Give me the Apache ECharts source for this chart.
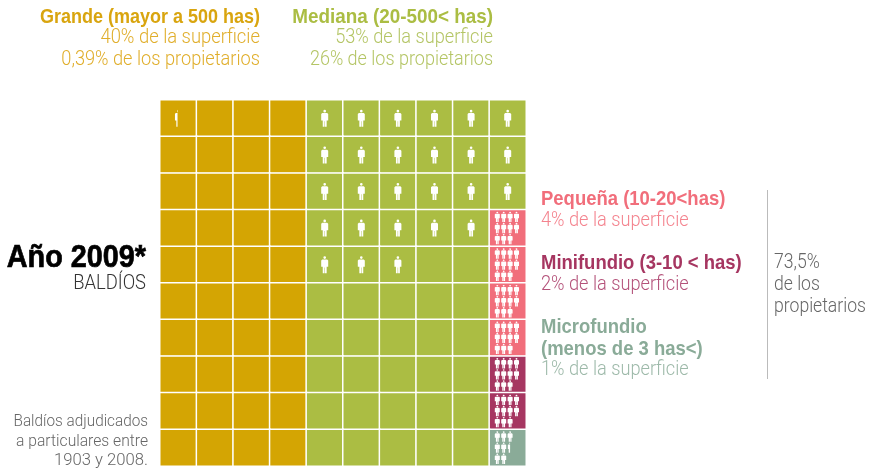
<!DOCTYPE html>
<html>
<head>
<meta charset="utf-8">
<style>html,body{margin:0;padding:0;background:#fff}#main{width:873px;height:469px}</style>
<script src="https://cdn.jsdelivr.net/npm/echarts@6/dist/echarts.min.js"></script>
</head>
<body>
<div id="main"></div>
<script>
// G grande, M mediana, P pequena, N minifundio, F microfundio
var landRows = [
    'GGGGMMMMMM',
    'GGGGMMMMMM',
    'GGGGMMMMMM',
    'GGGGMMMMMP',
    'GGGGMMMMMP',
    'GGGGMMMMMP',
    'GGGGMMMMMP',
    'GGGGMMMMMN',
    'GGGGMMMMMN',
    'GGGGMMMMMF'
];
// one figure per cell, fraction of a person
var bigPeople = [
    [0.39, 0, 0, 0, 1, 1, 1, 1, 1, 1],
    [0, 0, 0, 0, 1, 1, 1, 1, 1, 1],
    [0, 0, 0, 0, 1, 1, 1, 1, 1, 1],
    [0, 0, 0, 0, 1, 1, 1, 1, 1, 0],
    [0, 0, 0, 0, 1, 1, 1, 0, 0, 0]
];
// small figures per line inside a cell
var pequenaPeople = [4, 4, 3];
var minifundioPeople = [4, 4, 3];
var microfundioPeople = [3, 2.5, 2];

var colors = { G: '#d4a503', M: '#abbd43', P: '#f16e7b', N: '#a63661', F: '#8aab98' };
var smallPeople = { P: pequenaPeople, N: minifundioPeople, F: microfundioPeople };

var personPath = 'M5 0A1.9 1.9 0 1 1 4.99 0ZM1.5 4.6H8.5L10 6V15H7.8V24H5.3V16H4.7V24H2.2V15H0V6Z';

var sans = '"Liberation Sans",sans-serif';
var light = 'Roboto,"Liberation Sans",sans-serif';

var cols = [], rows = [], cellData = [], peopleData = [];
for (var i = 0; i < 10; i++) { cols.push(i); rows.push(i); }
landRows.forEach(function (r, y) {
    r.split('').forEach(function (c, x) {
        cellData.push({ value: [x, y, 1], itemStyle: { color: colors[c] } });
        var big = bigPeople[y] ? bigPeople[y][x] : 0;
        if (big) peopleData.push([x, y, big, '']);
        if (smallPeople[c]) peopleData.push([x, y, 0, c]);
    });
});

function figure(cx, top, w, h, part) {
    var el = {
        type: 'path',
        shape: { pathData: personPath, x: cx - w / 2, y: top, width: w, height: h, layout: 'cover' },
        style: { fill: '#fff' }
    };
    if (part < 1) {
        el.clipPath = { type: 'rect', shape: { x: cx - w / 2, y: top - 1, width: w * part, height: h + 2 } };
    }
    return el;
}

function renderPeople(params, api) {
    var p = api.coord([api.value(0), api.value(1)]);
    var kind = api.value(3);
    var children = [];
    if (!kind) {
        children.push(figure(p[0], p[1] - 8.5, 7, 17, api.value(2)));
    } else {
        smallPeople[kind].forEach(function (n, line) {
            for (var k = 0; k < Math.ceil(n); k++) {
                children.push(figure(p[0] - 10.4 + k * 6.4, p[1] - 16.4 + line * 11.1, 5, 10.4, Math.min(1, n - k)));
            }
        });
    }
    return { type: 'group', children: children };
}

function label(x, y, text, color, align, font, size, weight, sx) {
    return {
        type: 'text', x: x, y: y, scaleX: sx,
        style: { text: text, fill: color, align: align, verticalAlign: 'middle', fontFamily: font, fontSize: size, fontWeight: weight }
    };
}
function head(x, y, text, color, sx) {
    return label(x, y, text, color, x < 500 ? 'right' : 'left', sans, 21, 'bold', sx || 0.88);
}
function sub(x, y, text, color, align, sx) {
    return label(x, y, text, color, align, light, 20, 300, sx || 0.91);
}

var year = label(146, 258, 'Año 2009*', '#000', 'right', sans, 32, 'bold', 0.9);
year.style.stroke = '#000';
year.style.lineWidth = 0.7;

var chart = echarts.init(document.getElementById('main'));
chart.setOption({
    animation: false,
    grid: { left: 160, top: 100, width: 366, height: 366 },
    xAxis: { type: 'category', data: cols, show: false },
    yAxis: { type: 'category', data: rows, inverse: true, show: false },
    series: [
        { type: 'heatmap', data: cellData, itemStyle: { borderColor: '#fff', borderWidth: 1.5 } },
        { type: 'custom', data: peopleData, renderItem: renderPeople, clip: false, encode: { x: 0, y: 1 } }
    ],
    graphic: [
        head(260, 17, 'Grande (mayor a 500 has)', '#d9a50f', 0.857),
        sub(260, 38, '40% de la superficie', '#e0ae2b', 'right', 0.92),
        sub(260, 60, '0,39% de los propietarios', '#e0ae2b', 'right'),
        head(493, 17, 'Mediana (20-500< has)', '#abbd43', 0.898),
        sub(493, 38, '53% de la superficie', '#b4c565', 'right'),
        sub(493, 60, '26% de los propietarios', '#b4c565', 'right', 0.9),
        head(541, 199, 'Pequeña (10-20<has)', '#f16e7b'),
        sub(541, 221, '4% de la superficie', '#f4838e', 'left'),
        head(541, 263, 'Minifundio (3-10 < has)', '#a63661'),
        sub(541, 285, '2% de la superficie', '#b4527a', 'left'),
        head(541, 327, 'Microfundio', '#8aab98'),
        head(541, 349, '(menos de 3 has<)', '#8aab98'),
        sub(541, 370, '1% de la superficie', '#9db9a9', 'left'),
        sub(774, 263, '73,5%', '#666', 'left', 0.88),
        sub(774, 285, 'de los', '#666', 'left', 0.88),
        sub(774, 307, 'propietarios', '#666', 'left', 0.88),
        year,
        sub(146, 284, 'BALDÍOS', '#333', 'right', 0.92),
        label(148, 422, 'Baldíos adjudicados', '#666', 'right', light, 17, 300, 0.9),
        label(148, 442, 'a particulares entre', '#666', 'right', light, 17, 300, 0.92),
        label(148, 461, '1903 y 2008.', '#666', 'right', light, 17, 300, 0.98),
        { type: 'line', shape: { x1: 767.5, y1: 190, x2: 767.5, y2: 379 }, style: { stroke: '#bbb', lineWidth: 1 } }
    ]
});
</script>
</body>
</html>
